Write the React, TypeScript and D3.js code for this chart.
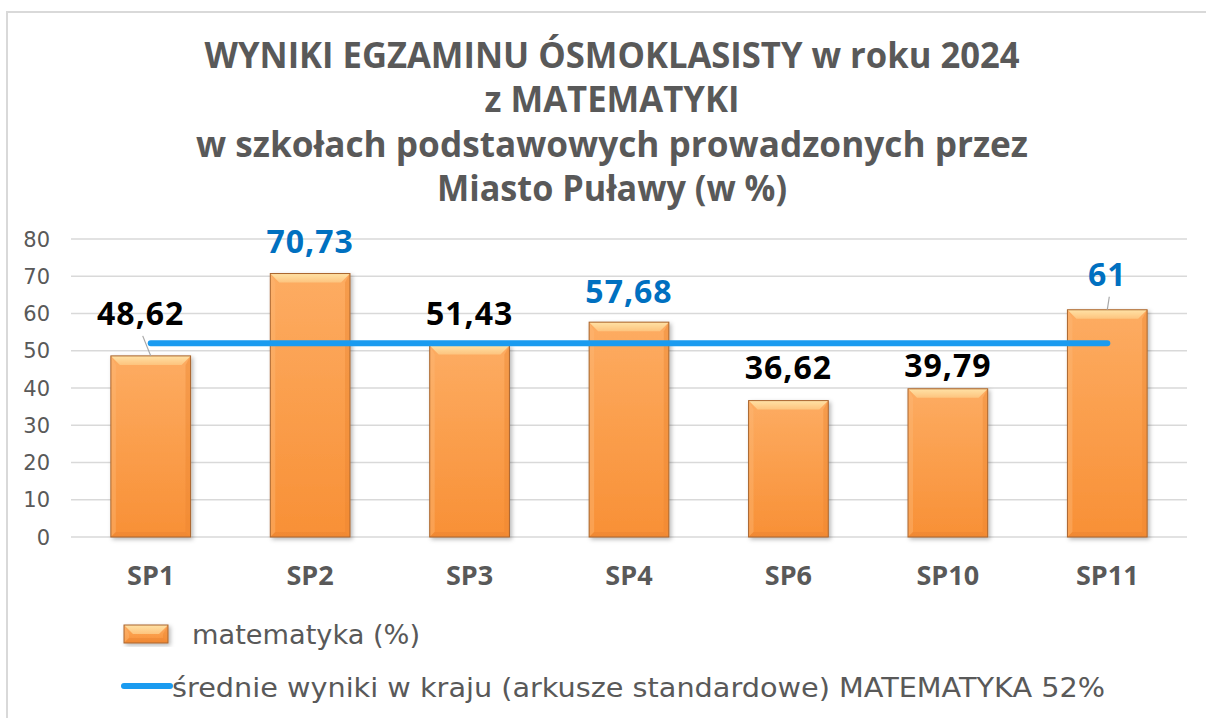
import React from "react";
import * as d3 from "d3";

const categories = ["SP1", "SP2", "SP3", "SP4", "SP6", "SP10", "SP11"];
const mathValues = [48.62, 70.73, 51.43, 57.68, 36.62, 39.79, 61];
const nationalAverage = [52, 52, 52, 52, 52, 52, 52];
const valueLabels = ["48,62", "70,73", "51,43", "57,68", "36,62", "39,79", "61"];
const yTicks = [0, 10, 20, 30, 40, 50, 60, 70, 80];
const titleLines = [
  "WYNIKI EGZAMINU ÓSMOKLASISTY w roku 2024",
  "z MATEMATYKI",
  "w szkołach podstawowych prowadzonych przez",
  "Miasto Puławy (w %)",
];
const legendBar = "matematyka (%)";
const legendLine = "średnie wyniki w kraju (arkusze standardowe) MATEMATYKA 52%";

// label styling nudges (manual label placement in the original)
const labelDx = [-10, 0, 0, 0, 0, 0, 0];
const labelDy = [-31, -21, -20, -19, -22, -12, -24];
const labelLeader = [true, false, false, false, false, false, true];

const W = 1206;
const H = 718;
const M = { left: 71, right: 1187, top: 239, bottom: 537 };
const GRAY = "#595959";
const BLUE_LINE = "#1a9bf0";
const BLUE_LABEL = "#0070c0";
const BOLD = "'Open Sans', 'DejaVu Sans', sans-serif";
const REG = "'DejaVu Sans', 'Open Sans', sans-serif";

function Bar({ x, y, w, h }: { x: number; y: number; w: number; h: number }) {
  const b = Math.min(9, h / 2, w / 2);
  const s = Math.min(5, h / 2);
  return (
    <g filter="url(#shadow)">
      <rect x={x} y={y} width={w} height={h} fill="url(#body)" />
      <polygon points={`${x},${y} ${x + w},${y} ${x + w - b},${y + b} ${x + b},${y + b}`} fill="url(#topBevel)" />
      <polygon points={`${x},${y} ${x + s},${y + b} ${x + s},${y + h - s} ${x},${y + h}`} fill="#fcb877" opacity={0.4} />
      <polygon points={`${x + w},${y} ${x + w - s},${y + b} ${x + w - s},${y + h - s} ${x + w},${y + h}`} fill="#ea842f" opacity={0.4} />
      <polygon points={`${x},${y + h} ${x + s},${y + h - s} ${x + w - s},${y + h - s} ${x + w},${y + h}`} fill="#e58030" opacity={0.4} />
      <rect x={x} y={y} width={w} height={h} fill="none" stroke="#a9652e" strokeWidth={1} />
    </g>
  );
}

export default function App() {
  const x = d3.scaleBand<string>().domain(categories).range([M.left, M.right]).paddingInner(0.5).paddingOuter(0.25);
  const y = d3.scaleLinear().domain([0, 80]).range([M.bottom, M.top]);
  const cx = (c: string) => (x(c) as number) + x.bandwidth() / 2;
  const line = d3
    .line<number>()
    .x((_, i) => cx(categories[i]))
    .y((d) => y(d));

  return (
    <svg width={W} height={H} style={{ position: "absolute", left: 0, top: 0, background: "#fff" }}>
      <defs>
        <linearGradient id="body" x1="0" y1="0" x2="0" y2="1">
          <stop offset="0" stopColor="#fdac62" />
          <stop offset="1" stopColor="#f89036" />
        </linearGradient>
        <linearGradient id="topBevel" x1="0" y1="0" x2="0" y2="1">
          <stop offset="0" stopColor="#ffe2a6" />
          <stop offset="1" stopColor="#fdc47e" />
        </linearGradient>
        <filter id="shadow" x="-20%" y="-20%" width="140%" height="140%">
          <feDropShadow dx="2" dy="2" stdDeviation="2" floodColor="#000" floodOpacity="0.28" />
        </filter>
      </defs>
      <rect x={7} y={12} width={1220} height={730} fill="#fff" stroke="#d9d9d9" strokeWidth={2} />

      {titleLines.map((t, i) => (
        <text
          key={i}
          x={612}
          y={68 + i * 44.3}
          textAnchor="middle"
          fontFamily={BOLD}
          fontWeight={700}
          fontSize={36}
          fill={GRAY}
          textLength={[815, 255, 832, 350][i]}
          lengthAdjust="spacingAndGlyphs"
        >
          {t}
        </text>
      ))}

      {yTicks.map((t) => (
        <g key={t}>
          <line x1={M.left} x2={M.right} y1={y(t)} y2={y(t)} stroke="#d9d9d9" strokeWidth={1.5} />
          <text x={50} y={y(t) + 7.5} textAnchor="end" fontFamily={REG} fontSize={21} fill={GRAY}>
            {t}
          </text>
        </g>
      ))}

      {categories.map((c, i) => (
        <Bar key={c} x={x(c) as number} y={y(mathValues[i])} w={x.bandwidth()} h={y(0) - y(mathValues[i])} />
      ))}

      <path d={line(nationalAverage) || ""} fill="none" stroke={BLUE_LINE} strokeWidth={6} strokeLinecap="round" />

      {categories.map((c, i) => {
        const lx = cx(c) + labelDx[i];
        const ly = y(mathValues[i]) + labelDy[i];
        return (
          <g key={c}>
            {labelLeader[i] && (
              <line x1={lx + 2} y1={ly + 11} x2={cx(c)} y2={y(mathValues[i])} stroke="#a6a6a6" strokeWidth={1.2} />
            )}
            <text
              x={lx}
              y={ly}
              textAnchor="middle"
              fontFamily={BOLD}
              fontWeight={700}
              fontSize={32}
              letterSpacing={1}
              fill={mathValues[i] > nationalAverage[i] ? BLUE_LABEL : "#000"}
            >
              {valueLabels[i]}
            </text>
          </g>
        );
      })}

      {categories.map((c) => (
        <text key={c} x={cx(c)} y={585} textAnchor="middle" fontFamily={BOLD} fontWeight={700} fontSize={27} fill={GRAY}>
          {c}
        </text>
      ))}

      <Bar x={124} y={625} w={44} h={18} />
      <text x={192} y={644} fontFamily={REG} fontSize={26} fill={GRAY} textLength={228} lengthAdjust="spacingAndGlyphs">
        {legendBar}
      </text>
      <line x1={124} x2={170} y1={686} y2={686} stroke={BLUE_LINE} strokeWidth={6} strokeLinecap="round" />
      <text x={172} y={697} fontFamily={REG} fontSize={26} fill={GRAY} textLength={933} lengthAdjust="spacingAndGlyphs">
        {legendLine}
      </text>
    </svg>
  );
}
